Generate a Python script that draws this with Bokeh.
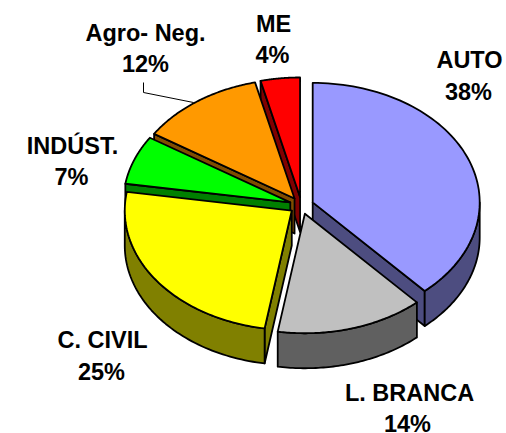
import numpy as np
from bokeh.plotting import figure, ColumnDataSource
from bokeh.embed import file_html
from bokeh.resources import INLINE
from bokeh.core.properties import value

categories = ["AUTO", "L. BRANCA", "C. CIVIL", "INDÚST.", "Agro- Neg.", "ME"]
shares = [38.3, 14.3, 24.9, 6.6, 12.1, 3.8]
top_colors = ["#9999FF", "#C0C0C0", "#FFFF00", "#00FF00", "#FF9900", "#FF0000"]
side_colors = ["#4D4D80", "#606060", "#808000", "#008000", "#804D00", "#800000"]

name_pos = [(469, 59), (409, 392), (102, 339), (72, 145), (145, 32), (273, 23)]
pct_pos = [(468, 91), (407, 423), (101, 371), (71, 176), (145, 63), (272, 54)]

CX, CY, RX, RY, DEPTH = 301.0, 205.0, 167.0, 119.5, 35.0
EXPLODE = 12.0
TILT = RY / RX

p = figure(width=506, height=433, x_range=(0, 506), y_range=(433, 0),
           output_backend="svg", toolbar_location=None, min_border=0)
p.axis.visible = False
p.grid.visible = False
p.outline_line_color = None
p.background_fill_color = "white"


def ring(a):
    a = np.radians(a)
    return RX * np.sin(a), -RY * np.cos(a)


total = float(sum(shares))
edges = np.cumsum([0] + shares) / total * 360.0
slices = []
for i in range(len(shares)):
    a0, a1 = edges[i], edges[i + 1]
    mid = (a0 + a1) / 2
    ax = CX + EXPLODE * np.sin(np.radians(mid))
    ay = CY - EXPLODE * TILT * np.cos(np.radians(mid))
    slices.append((-np.cos(np.radians(mid)), i, a0, a1, ax, ay))

xs, ys, fills = [], [], []
for _, i, a0, a1, ax, ay in sorted(slices):
    # radial walls that face the viewer
    walls = []
    if 180.0 < a0 < 360.0:
        walls.append(a0)
    if 0.0 < a1 < 180.0:
        walls.append(a1)
    for a in walls:
        dx, dy = ring(a)
        xs.append([ax, ax + dx, ax + dx, ax])
        ys.append([ay, ay + dy, ay + dy + DEPTH, ay + DEPTH])
        fills.append(side_colors[i])
    # outer wall, front half only
    lo, hi = max(a0, 90.0), min(a1, 270.0)
    if hi > lo:
        t = np.linspace(lo, hi, 60)
        dx, dy = ring(t)
        xs.append(list(ax + dx) + list((ax + dx)[::-1]))
        ys.append(list(ay + dy) + list((ay + dy + DEPTH)[::-1]))
        fills.append(side_colors[i])
    # top face
    t = np.linspace(a0, a1, 80)
    dx, dy = ring(t)
    xs.append([ax] + list(ax + dx))
    ys.append([ay] + list(ay + dy))
    fills.append(top_colors[i])

p.patches(xs="xs", ys="ys", fill_color="fills", line_color="black", line_width=1.8,
          line_join="round", source=ColumnDataSource(dict(xs=xs, ys=ys, fills=fills)))

# leader line of the Agro- Neg. label
p.line([143, 143, 193], [82, 92, 102], line_color="black", line_width=1)

labels = [f"{round(s)}%" for s in shares]
p.text([q[0] for q in name_pos], [q[1] for q in name_pos], text=categories,
       text_font=value("Liberation Sans"), text_font_style="bold", text_font_size="23.5px",
       text_align="center", text_baseline="alphabetic", text_color="black")
p.text([q[0] for q in pct_pos], [q[1] for q in pct_pos], text=labels,
       text_font=value("Liberation Sans"), text_font_style="bold", text_font_size="23.5px",
       text_align="center", text_baseline="alphabetic", text_color="black")

open("out.html", "w").write(file_html(p, INLINE))
